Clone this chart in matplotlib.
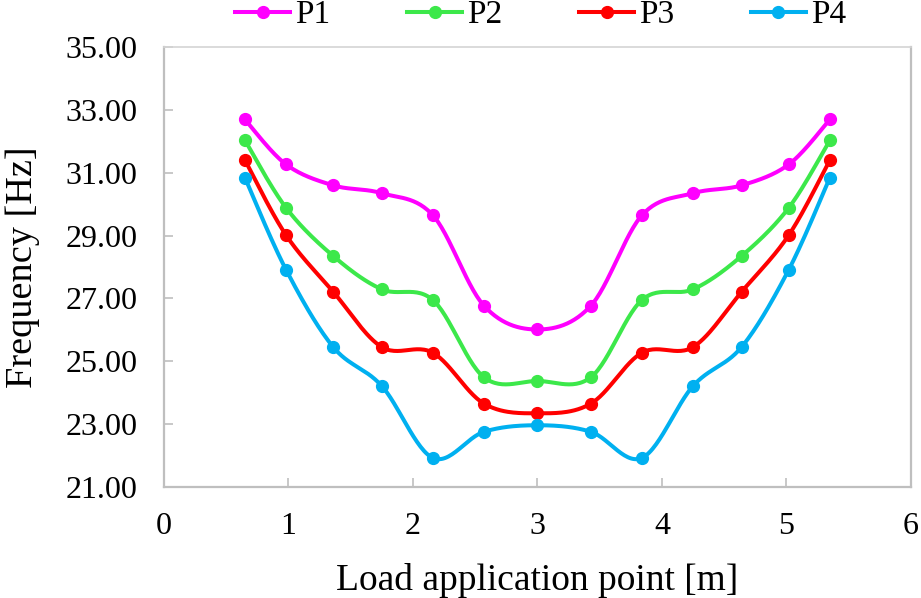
import numpy as np
import matplotlib
matplotlib.use('Agg')
from matplotlib import pyplot as plt

plt.rcParams['font.family'] = ['Liberation Serif', 'DejaVu Serif']

# load positions [m] and frequencies [Hz]
load_pos = [0.65, 0.98, 1.36, 1.75, 2.16, 2.57, 3.0, 3.43, 3.84, 4.25, 4.64, 5.02, 5.35]
p1 = [32.70, 31.27, 30.60, 30.35, 29.65, 26.77, 26.01, 26.77, 29.65, 30.35, 30.60, 31.27, 32.70]
p2 = [32.04, 29.89, 28.35, 27.29, 26.95, 24.49, 24.37, 24.49, 26.95, 27.29, 28.35, 29.89, 32.04]
p3 = [31.41, 29.02, 27.21, 25.45, 25.27, 23.65, 23.34, 23.65, 25.27, 25.45, 27.21, 29.02, 31.41]
p4 = [30.85, 27.92, 25.45, 24.21, 21.92, 22.75, 22.96, 22.75, 21.92, 24.21, 25.45, 27.92, 30.85]

series = [('P1', p1, '#FF00FF'), ('P2', p2, '#3CE84A'),
          ('P3', p3, '#FF0000'), ('P4', p4, '#00B0F0')]


def smooth(x, y, n=30):
    # excel style smoothed line (catmull-rom bezier through the points)
    x = np.asarray(x, float)
    y = np.asarray(y, float)
    px = np.concatenate([[x[0]], x, [x[-1]]])
    py = np.concatenate([[y[0]], y, [y[-1]]])
    xs, ys = [], []
    t = np.linspace(0, 1, n)
    for i in range(1, len(px) - 2):
        b0 = np.array([px[i], py[i]])
        b3 = np.array([px[i + 1], py[i + 1]])
        b1 = b0 + (np.array([px[i + 1], py[i + 1]]) - np.array([px[i - 1], py[i - 1]])) / 6
        b2 = b3 - (np.array([px[i + 2], py[i + 2]]) - np.array([px[i], py[i]])) / 6
        c = ((1 - t) ** 3)[:, None] * b0 + (3 * (1 - t) ** 2 * t)[:, None] * b1 \
            + (3 * (1 - t) * t ** 2)[:, None] * b2 + (t ** 3)[:, None] * b3
        xs.extend(c[:, 0])
        ys.extend(c[:, 1])
    return xs, ys


fig = plt.figure(figsize=(9.21, 5.98), dpi=100)
ax = fig.add_axes([0.178, 0.186, 0.811, 0.735])

for name, vals, col in series:
    sx, sy = smooth(load_pos, vals)
    ax.plot(sx, sy, color=col, lw=2.9, zorder=3)
    ax.plot(load_pos, vals, 'o', color=col, ms=8.5, zorder=4)
    # legend proxy
    ax.plot([], [], '-o', color=col, lw=2.9, ms=8.5, label=name)

ax.set_xlim(0, 6)
ax.set_ylim(21, 35)
ax.set_xticks(range(0, 7))
ax.set_yticks(np.arange(21, 36, 2))
ax.set_yticklabels(['%.2f' % v for v in np.arange(21, 36, 2)])
ax.tick_params(direction='in', length=6.5, width=1.2, color='#BFBFBF',
               labelsize=23)
ax.tick_params(axis='y', pad=19)
ax.tick_params(axis='x', pad=18)
for s in ['left', 'bottom', 'right']:
    ax.spines[s].set_color('#BFBFBF')
    ax.spines[s].set_linewidth(1.6)
ax.spines['top'].set_color('#D4D4D4')
ax.spines['top'].set_linewidth(1.2)

ax.set_xlabel('Load application point [m]', fontsize=27, labelpad=16)
ax.set_ylabel('Frequency [Hz]', fontsize=27.5)
ax.yaxis.set_label_coords(-0.166, 0.5)

fig.legend(loc='center', bbox_to_anchor=(0.587, 0.975), ncol=4, frameon=False,
           fontsize=24, handlelength=1.65, handletextpad=0.15, columnspacing=2.3,
           borderpad=0)

fig.savefig('out.png', dpi=100)
